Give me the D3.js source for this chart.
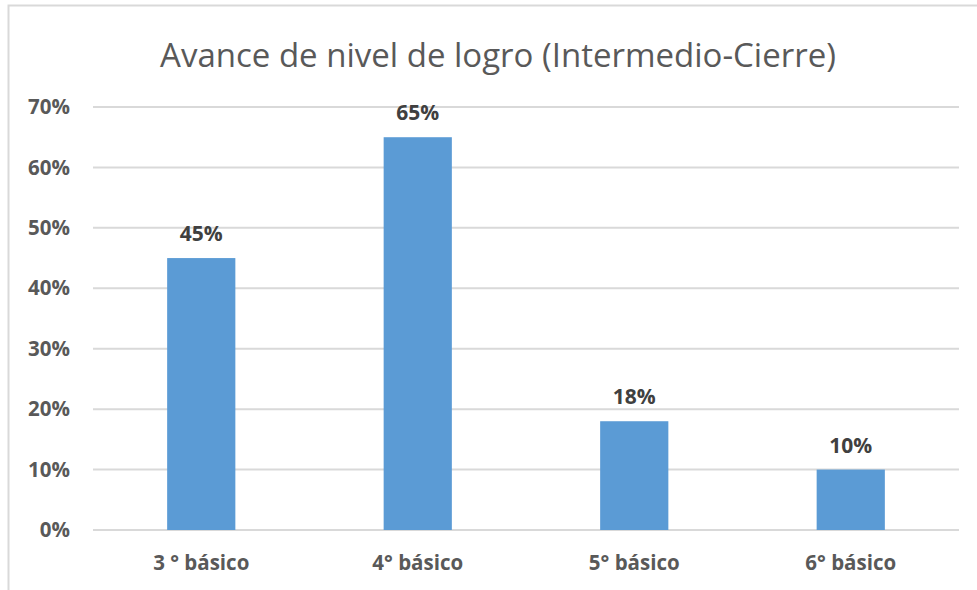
<!DOCTYPE html>
<html>
<head>
<meta charset="utf-8">
<script src="https://cdn.jsdelivr.net/npm/d3@7"></script>
<style>
  body { margin: 0; background: #fff; }
  svg { display: block; font-family: "Open Sans", sans-serif; }
</style>
</head>
<body>
<div id="chart"></div>
<script>
var w = 977, h = 590;

// values
var categories = ['3 ° básico', '4° básico', '5° básico', '6° básico'];
var values = [0.45, 0.65, 0.18, 0.10];
var ticks = [0, 0.1, 0.2, 0.3, 0.4, 0.5, 0.6, 0.7];
var title = 'Avance de nivel de logro (Intermedio-Cierre)';

var margin = {top: 107, right: 18, bottom: 60, left: 93};

var svg = d3.select('#chart').append('svg')
  .attr('width', w)
  .attr('height', h);

// chart frame (cut off on right and bottom)
svg.append('rect')
  .attr('x', 8.5).attr('y', 5.5)
  .attr('width', w + 20).attr('height', h + 20)
  .attr('fill', 'none')
  .attr('stroke', '#d9d9d9')
  .attr('stroke-width', 2);

var x = d3.scaleBand()
  .domain(categories)
  .range([margin.left, w - margin.right])
  .paddingInner(0.685)
  .paddingOuter(0.3425);

var y = d3.scaleLinear()
  .domain([0, 0.7])
  .range([h - margin.bottom, margin.top]);

// gridlines
svg.append('g')
  .selectAll('line')
  .data(ticks)
  .enter().append('line')
  .attr('x1', margin.left)
  .attr('x2', w - margin.right)
  .attr('y1', function(d) { return y(d); })
  .attr('y2', function(d) { return y(d); })
  .attr('stroke', '#d9d9d9')
  .attr('stroke-width', 2);

// y tick labels
svg.append('g')
  .selectAll('text')
  .data(ticks)
  .enter().append('text')
  .attr('x', 70)
  .attr('y', function(d) { return y(d); })
  .attr('dy', '0.35em')
  .attr('text-anchor', 'end')
  .attr('font-size', 20.5)
  .attr('font-weight', 'bold')
  .attr('fill', '#595959')
  .text(d3.format('.0%'));

// bars
svg.append('g')
  .selectAll('rect')
  .data(values)
  .enter().append('rect')
  .attr('x', function(d, i) { return x(categories[i]); })
  .attr('width', x.bandwidth())
  .attr('y', function(d) { return y(d); })
  .attr('height', function(d) { return y(0) - y(d); })
  .attr('fill', '#5b9bd5');

// value labels
svg.append('g')
  .selectAll('text')
  .data(values)
  .enter().append('text')
  .attr('x', function(d, i) { return x(categories[i]) + x.bandwidth() / 2; })
  .attr('y', function(d) { return y(d) - 17; })
  .attr('text-anchor', 'middle')
  .attr('font-size', 21)
  .attr('font-weight', 'bold')
  .attr('fill', '#404040')
  .text(d3.format('.0%'));

// category labels
svg.append('g')
  .selectAll('text')
  .data(categories)
  .enter().append('text')
  .attr('x', function(d) { return x(d) + x.bandwidth() / 2; })
  .attr('y', 570)
  .attr('text-anchor', 'middle')
  .attr('font-size', 20.5)
  .attr('font-weight', 'bold')
  .attr('fill', '#595959')
  .text(function(d) { return d; });

// title
svg.append('text')
  .attr('x', 498)
  .attr('y', 67)
  .attr('text-anchor', 'middle')
  .attr('font-size', 33)
  .attr('fill', '#595959')
  .text(title);
</script>
</body>
</html>
